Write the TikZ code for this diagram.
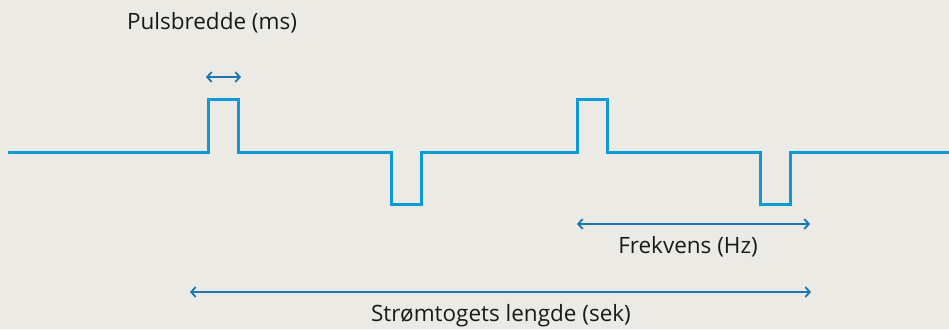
\documentclass[tikz,border=0pt]{standalone}
\usepackage{fontspec}
\setmainfont{Open Sans}
\usetikzlibrary{arrows.meta}
\definecolor{bg}{HTML}{EBEAE4}
\definecolor{wave}{HTML}{0A9AD8}
\definecolor{arr}{HTML}{1C76B2}
\definecolor{txt}{HTML}{1A1A1A}
\tikzset{
  wavestyle/.style={draw=wave, line width=3pt, line join=miter},
  dimarrow/.style={draw=arr, line width=1.6pt, {Straight Barb[length=4.5pt,width=10pt,line width=1.8pt]}-{Straight Barb[length=4.5pt,width=10pt,line width=1.8pt]}},
  label/.style={text=txt, font=\fontsize{22.5}{26}\selectfont, inner sep=0pt, anchor=center}
}
\begin{document}
\begin{tikzpicture}[x=1pt,y=-1pt]
\fill[bg] (0,0) rectangle (949,329);
\useasboundingbox (0,0) rectangle (949,329);
% waveform
\draw[wavestyle] (8,152) -- (208,152) -- (208,99) -- (238,99) -- (238,152)
  -- (391,152) -- (391,204) -- (421,204) -- (421,152)
  -- (577,152) -- (577,99) -- (607,99) -- (607,152)
  -- (760,152) -- (760,204) -- (790,204) -- (790,152) -- (949,152);
% dimension endpoints
\coordinate (pwL) at (206,77);
\coordinate (pwR) at (241,77);
\coordinate (frL) at (577,224);
\coordinate (frR) at (810,224);
\coordinate (trL) at (190,292);
\coordinate (trR) at (811,292);
\draw[dimarrow] (pwL) -- (pwR);
\draw[dimarrow] (frL) -- (frR);
\draw[dimarrow] (trL) -- (trR);
% labels
\node[label] (pw) at (212,23) {Pulsbredde (ms)};
\node[label] (fr) at (688,247) {Frekvens (Hz)};
\node[label] (tr) at (501,316) {Strømtogets lengde (sek)};
\end{tikzpicture}
\end{document}
